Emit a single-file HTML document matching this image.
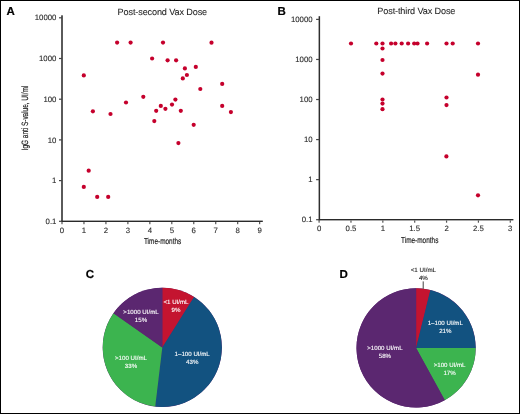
<!DOCTYPE html>
<html><head><meta charset="utf-8"><style>
html,body{margin:0;padding:0;background:#fff}
.wrap{position:relative;width:520px;height:414px;box-sizing:border-box;border:1px solid #000;overflow:hidden;background:#fff}
svg{position:absolute;left:-1px;top:-1px;will-change:transform}
text{font-family:'Liberation Sans',sans-serif;text-rendering:geometricPrecision}
.tk{font-size:7.8px;fill:#2a2a2a;stroke:#2a2a2a;stroke-width:0.1px}
.ti{font-size:9.1px;fill:#1e1e1e;letter-spacing:-0.12px;stroke:#1e1e1e;stroke-width:0.08px}
.pl{font-size:11.5px;font-weight:bold;fill:#000;stroke:#000;stroke-width:0.2px}
.at{font-size:8.6px;fill:#222;stroke:#222;stroke-width:0.18px}
.pw{font-size:6.15px;fill:#fff;stroke:#fff;stroke-width:0.12px}
.pd{font-size:6.2px;fill:#1a1a1a;stroke:#1a1a1a;stroke-width:0.12px}
</style></head><body><div class="wrap"><svg width="520" height="414" viewBox="0 0 520 414">
<rect x="61" y="15.3" width="2" height="206.4" fill="#5a5a5a"/>
<rect x="61" y="220.6" width="201.8" height="1.4" fill="#2a2a2a"/>
<rect x="59" y="17.2" width="3" height="1.2" fill="#444"/>
<text x="56.4" y="20.4" class="tk" text-anchor="end">10000</text>
<rect x="59" y="57.9" width="3" height="1.2" fill="#444"/>
<text x="56.4" y="61.1" class="tk" text-anchor="end">1000</text>
<rect x="59" y="98.6" width="3" height="1.2" fill="#444"/>
<text x="56.4" y="101.8" class="tk" text-anchor="end">100</text>
<rect x="59" y="139.3" width="3" height="1.2" fill="#444"/>
<text x="56.4" y="142.5" class="tk" text-anchor="end">10</text>
<rect x="59" y="180" width="3" height="1.2" fill="#444"/>
<text x="56.4" y="183.2" class="tk" text-anchor="end">1</text>
<rect x="59" y="220.7" width="3" height="1.2" fill="#444"/>
<text x="56.4" y="223.9" class="tk" text-anchor="end">0.1</text>
<rect x="61.4" y="222" width="1.2" height="2.2" fill="#555"/>
<text x="62" y="232.6" class="tk" text-anchor="middle">0</text>
<rect x="83.36" y="222" width="1.2" height="2.2" fill="#555"/>
<text x="83.96" y="232.6" class="tk" text-anchor="middle">1</text>
<rect x="105.32" y="222" width="1.2" height="2.2" fill="#555"/>
<text x="105.92" y="232.6" class="tk" text-anchor="middle">2</text>
<rect x="127.28" y="222" width="1.2" height="2.2" fill="#555"/>
<text x="127.88" y="232.6" class="tk" text-anchor="middle">3</text>
<rect x="149.24" y="222" width="1.2" height="2.2" fill="#555"/>
<text x="149.84" y="232.6" class="tk" text-anchor="middle">4</text>
<rect x="171.2" y="222" width="1.2" height="2.2" fill="#555"/>
<text x="171.8" y="232.6" class="tk" text-anchor="middle">5</text>
<rect x="193.16" y="222" width="1.2" height="2.2" fill="#555"/>
<text x="193.76" y="232.6" class="tk" text-anchor="middle">6</text>
<rect x="215.12" y="222" width="1.2" height="2.2" fill="#555"/>
<text x="215.72" y="232.6" class="tk" text-anchor="middle">7</text>
<rect x="237.08" y="222" width="1.2" height="2.2" fill="#555"/>
<text x="237.68" y="232.6" class="tk" text-anchor="middle">8</text>
<rect x="259.04" y="222" width="1.2" height="2.2" fill="#555"/>
<text x="259.64" y="232.6" class="tk" text-anchor="middle">9</text>
<rect x="318.6" y="16.2" width="1.5" height="204.2" fill="#2e2e2e"/>
<rect x="318.6" y="219.0" width="194.8" height="1.4" fill="#2a2a2a"/>
<rect x="316.1" y="18.8" width="3" height="1.2" fill="#444"/>
<text x="312.6" y="22" class="tk" text-anchor="end">10000</text>
<rect x="316.1" y="58.86" width="3" height="1.2" fill="#444"/>
<text x="312.6" y="62.06" class="tk" text-anchor="end">1000</text>
<rect x="316.1" y="98.92" width="3" height="1.2" fill="#444"/>
<text x="312.6" y="102.12" class="tk" text-anchor="end">100</text>
<rect x="316.1" y="138.98" width="3" height="1.2" fill="#444"/>
<text x="312.6" y="142.18" class="tk" text-anchor="end">10</text>
<rect x="316.1" y="179.04" width="3" height="1.2" fill="#444"/>
<text x="312.6" y="182.24" class="tk" text-anchor="end">1</text>
<rect x="316.1" y="219.1" width="3" height="1.2" fill="#444"/>
<text x="312.6" y="222.3" class="tk" text-anchor="end">0.1</text>
<rect x="318.5" y="220.4" width="1.2" height="2.3" fill="#555"/>
<text x="319.1" y="231.4" class="tk" text-anchor="middle">0</text>
<rect x="350.37" y="220.4" width="1.2" height="2.3" fill="#555"/>
<text x="350.97" y="231.4" class="tk" text-anchor="middle">0.5</text>
<rect x="382.23" y="220.4" width="1.2" height="2.3" fill="#555"/>
<text x="382.83" y="231.4" class="tk" text-anchor="middle">1</text>
<rect x="414.1" y="220.4" width="1.2" height="2.3" fill="#555"/>
<text x="414.7" y="231.4" class="tk" text-anchor="middle">1.5</text>
<rect x="445.96" y="220.4" width="1.2" height="2.3" fill="#555"/>
<text x="446.56" y="231.4" class="tk" text-anchor="middle">2</text>
<rect x="477.82" y="220.4" width="1.2" height="2.3" fill="#555"/>
<text x="478.43" y="231.4" class="tk" text-anchor="middle">2.5</text>
<rect x="509.69" y="220.4" width="1.2" height="2.3" fill="#555"/>
<text x="510.29" y="231.4" class="tk" text-anchor="middle">3</text>
<circle cx="117.1" cy="42.6" r="2.1" fill="#c5002c"/>
<circle cx="130.6" cy="42.6" r="2.1" fill="#c5002c"/>
<circle cx="163.0" cy="42.6" r="2.1" fill="#c5002c"/>
<circle cx="211.5" cy="42.7" r="2.1" fill="#c5002c"/>
<circle cx="152.1" cy="58.5" r="2.1" fill="#c5002c"/>
<circle cx="167.6" cy="60.3" r="2.1" fill="#c5002c"/>
<circle cx="176.1" cy="60.3" r="2.1" fill="#c5002c"/>
<circle cx="195.8" cy="66.9" r="2.1" fill="#c5002c"/>
<circle cx="184.9" cy="68.4" r="2.1" fill="#c5002c"/>
<circle cx="186.9" cy="75.0" r="2.1" fill="#c5002c"/>
<circle cx="83.8" cy="75.4" r="2.1" fill="#c5002c"/>
<circle cx="182.8" cy="78.4" r="2.1" fill="#c5002c"/>
<circle cx="222.2" cy="83.9" r="2.1" fill="#c5002c"/>
<circle cx="200.3" cy="89.0" r="2.1" fill="#c5002c"/>
<circle cx="143.3" cy="96.8" r="2.1" fill="#c5002c"/>
<circle cx="175.4" cy="99.6" r="2.1" fill="#c5002c"/>
<circle cx="126.0" cy="102.5" r="2.1" fill="#c5002c"/>
<circle cx="172.0" cy="104.6" r="2.1" fill="#c5002c"/>
<circle cx="160.8" cy="105.9" r="2.1" fill="#c5002c"/>
<circle cx="222.2" cy="105.9" r="2.1" fill="#c5002c"/>
<circle cx="165.4" cy="108.8" r="2.1" fill="#c5002c"/>
<circle cx="156.2" cy="110.8" r="2.1" fill="#c5002c"/>
<circle cx="180.8" cy="110.8" r="2.1" fill="#c5002c"/>
<circle cx="92.9" cy="111.3" r="2.1" fill="#c5002c"/>
<circle cx="230.9" cy="112.1" r="2.1" fill="#c5002c"/>
<circle cx="110.5" cy="114.0" r="2.1" fill="#c5002c"/>
<circle cx="154.3" cy="121.1" r="2.1" fill="#c5002c"/>
<circle cx="193.7" cy="124.8" r="2.1" fill="#c5002c"/>
<circle cx="178.4" cy="143.1" r="2.1" fill="#c5002c"/>
<circle cx="88.7" cy="170.7" r="2.1" fill="#c5002c"/>
<circle cx="83.8" cy="186.9" r="2.1" fill="#c5002c"/>
<circle cx="97.2" cy="196.9" r="2.1" fill="#c5002c"/>
<circle cx="108.2" cy="196.9" r="2.1" fill="#c5002c"/>
<circle cx="351.0" cy="43.5" r="2.1" fill="#c5002c"/>
<circle cx="376.3" cy="43.5" r="2.1" fill="#c5002c"/>
<circle cx="382.5" cy="43.5" r="2.1" fill="#c5002c"/>
<circle cx="391.1" cy="43.5" r="2.1" fill="#c5002c"/>
<circle cx="395.4" cy="43.5" r="2.1" fill="#c5002c"/>
<circle cx="401.7" cy="43.5" r="2.1" fill="#c5002c"/>
<circle cx="408.1" cy="43.5" r="2.1" fill="#c5002c"/>
<circle cx="414.2" cy="43.5" r="2.1" fill="#c5002c"/>
<circle cx="417.5" cy="43.5" r="2.1" fill="#c5002c"/>
<circle cx="427.1" cy="43.5" r="2.1" fill="#c5002c"/>
<circle cx="446.5" cy="43.5" r="2.1" fill="#c5002c"/>
<circle cx="452.7" cy="43.5" r="2.1" fill="#c5002c"/>
<circle cx="478.0" cy="43.5" r="2.1" fill="#c5002c"/>
<circle cx="382.5" cy="48.5" r="2.1" fill="#c5002c"/>
<circle cx="382.5" cy="60.0" r="2.1" fill="#c5002c"/>
<circle cx="382.5" cy="73.6" r="2.1" fill="#c5002c"/>
<circle cx="382.5" cy="99.5" r="2.1" fill="#c5002c"/>
<circle cx="382.5" cy="103.6" r="2.1" fill="#c5002c"/>
<circle cx="382.5" cy="109.2" r="2.1" fill="#c5002c"/>
<circle cx="446.5" cy="97.5" r="2.1" fill="#c5002c"/>
<circle cx="446.5" cy="105.1" r="2.1" fill="#c5002c"/>
<circle cx="446.4" cy="156.4" r="2.1" fill="#c5002c"/>
<circle cx="478.0" cy="74.7" r="2.1" fill="#c5002c"/>
<circle cx="478.0" cy="195.3" r="2.1" fill="#c5002c"/>
<text x="162.3" y="14.8" class="ti" text-anchor="middle">Post-second Vax Dose</text>
<text x="416.3" y="13.8" class="ti" text-anchor="middle">Post-third Vax Dose</text>
<text x="6.6" y="15" class="pl">A</text>
<text x="277.6" y="14.7" class="pl">B</text>
<text x="85.8" y="278.3" class="pl">C</text>
<text x="339.6" y="277.8" class="pl">D</text>
<text class="at" transform="translate(162.6,244.1) scale(0.75,1)" text-anchor="middle">Time-months</text>
<text class="at" transform="translate(419.7,242.5) scale(0.75,1)" text-anchor="middle">Time-months</text>
<text class="at" style="font-size:9.2px" transform="translate(28.1,118) rotate(-90) scale(0.70,1)" text-anchor="middle">IgG anti S-value, UI/ml</text>
<circle cx="162.3" cy="347.4" r="59.6" fill="#5b2770"/>
<path d="M162.3,347.4 L162.3,287.8 A59.6,59.6 0 0 1 194.06,296.97 Z" fill="#c41430"/>
<path d="M162.3,347.4 L194.06,296.97 A59.6,59.6 0 0 1 155.24,406.58 Z" fill="#125280"/>
<path d="M162.3,347.4 L155.24,406.58 A59.6,59.6 0 0 1 113.48,313.21 Z" fill="#3cb44f"/>
<path d="M162.3,347.4 L113.48,313.21 A59.6,59.6 0 0 1 162.3,287.8 Z" fill="#5b2770"/>
<circle cx="416.1" cy="347.9" r="59.6" fill="#5b2770"/>
<path d="M416.1,347.9 L416.1,288.3 A59.6,59.6 0 0 1 430.42,290.05 Z" fill="#c41430"/>
<path d="M416.1,347.9 L430.42,290.05 A59.6,59.6 0 0 1 475.7,347.9 Z" fill="#125280"/>
<path d="M416.1,347.9 L475.7,347.9 A59.6,59.6 0 0 1 444.81,400.13 Z" fill="#3cb44f"/>
<path d="M416.1,347.9 L444.81,400.13 A59.6,59.6 0 1 1 416.1,288.3 Z" fill="#5b2770"/>
<text x="176.0" y="304.1" class="pw" text-anchor="middle">&lt;1 UI/mL</text>
<text x="176.0" y="311.5" class="pw" text-anchor="middle">9%</text>
<text x="141.0" y="314.3" class="pw" text-anchor="middle">&gt;1000 UI/mL</text>
<text x="141.0" y="321.7" class="pw" text-anchor="middle">15%</text>
<text x="131.0" y="360.2" class="pw" text-anchor="middle">&gt;100 UI/mL</text>
<text x="131.0" y="367.6" class="pw" text-anchor="middle">33%</text>
<text x="192.2" y="356.3" class="pw" text-anchor="middle">1–100 UI/mL</text>
<text x="192.2" y="363.7" class="pw" text-anchor="middle">43%</text>
<text x="423.4" y="272.2" class="pd" text-anchor="middle">&lt;1 UI/mL</text>
<text x="423.4" y="279.6" class="pd" text-anchor="middle">4%</text>
<rect x="422.7" y="281.4" width="1" height="7.4" fill="#444"/>
<text x="445.3" y="325.2" class="pw" text-anchor="middle">1–100 UI/mL</text>
<text x="445.3" y="332.6" class="pw" text-anchor="middle">21%</text>
<text x="449.6" y="367.1" class="pw" text-anchor="middle">&gt;100 UI/mL</text>
<text x="449.6" y="374.5" class="pw" text-anchor="middle">17%</text>
<text x="384.9" y="350.3" class="pw" text-anchor="middle">&gt;1000 UI/mL</text>
<text x="384.9" y="357.7" class="pw" text-anchor="middle">58%</text>
</svg></div></body></html>
